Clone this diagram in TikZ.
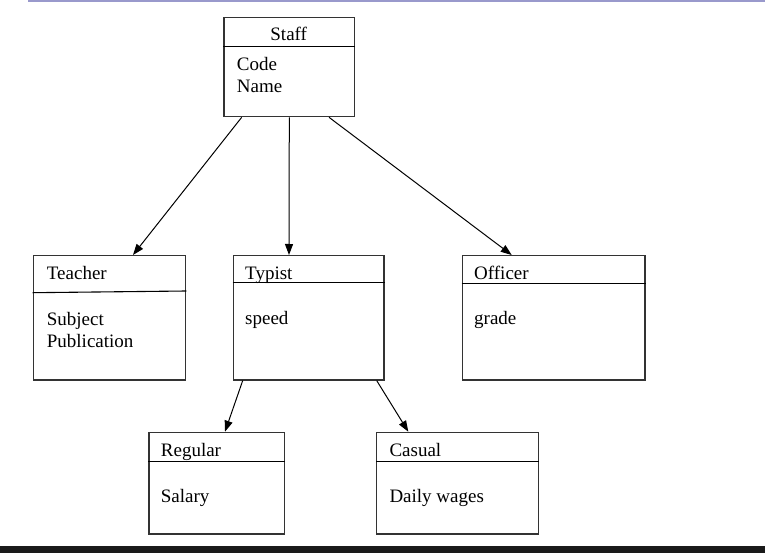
\documentclass[tikz,border=0pt]{standalone}
\usepackage{fontspec}
\setmainfont{Liberation Serif}
\usetikzlibrary{arrows.meta}
\definecolor{topbar}{HTML}{9999CC}
\definecolor{botbar}{HTML}{1A1A1A}
\definecolor{boxcol}{HTML}{333333}
\tikzset{
  classbox/.style={draw=boxcol, line width=1.3pt, rectangle, inner sep=0pt, anchor=north west},
  divider/.style={draw=black, line width=1.1pt},
  label/.style={inner sep=0pt, anchor=base west, font=\fontsize{19}{22}\selectfont},
  ctitle/.style={inner sep=0pt, anchor=base, font=\fontsize{19}{22}\selectfont},
  arr/.style={draw=black, line width=1pt, -{Triangle[length=11pt,width=8pt]}}
}
\begin{document}
\begin{tikzpicture}[x=1pt,y=-1pt]
\useasboundingbox (0,0) rectangle (765,553);
\fill[topbar] (28,0) rectangle (765,2.4);
\fill[botbar] (0,545.7) rectangle (765,553);

% boxes
\node[classbox, minimum width=130.7pt, minimum height=99.3pt] (staff) at (223.3,16.7) {};
\node[classbox, minimum width=152.3pt, minimum height=124.3pt] (teacher) at (32.7,255) {};
\node[classbox, minimum width=150.6pt, minimum height=124.3pt] (typist) at (232.7,255) {};
\node[classbox, minimum width=182.6pt, minimum height=124.3pt] (officer) at (461.7,255) {};
\node[classbox, minimum width=135.7pt, minimum height=101.6pt] (regular) at (148.3,431.7) {};
\node[classbox, minimum width=161.7pt, minimum height=101.6pt] (casual) at (376,431.7) {};

% dividers
\draw[divider] ([yshift=-30pt]staff.north west) -- ([yshift=-30pt]staff.north east);
\draw[divider] ([yshift=-37.7pt]teacher.north west) -- ([yshift=-36pt]teacher.north east);
\draw[divider] ([yshift=-27.7pt]typist.north west) -- ([yshift=-27.7pt]typist.north east);
\draw[divider] ([yshift=-28.3pt]officer.north west) -- ([yshift=-28.3pt]officer.north east);
\draw[divider] ([yshift=-30pt]regular.north west) -- ([yshift=-30pt]regular.north east);
\draw[divider] ([yshift=-30pt]casual.north west) -- ([yshift=-30pt]casual.north east);

% texts
\node[ctitle] (tstaff) at (288.7,41) {Staff};
\node[label] (tcode) at (236.7,71) {Code};
\node[label] (tname) at (236.7,93) {Name};
\node[label] (tteacher) at (46.7,279.3) {Teacher};
\node[label] (tsubject) at (46.7,325) {Subject};
\node[label] (tpub) at (46.7,347.3) {Publication};
\node[label] (ttypist) at (245,279) {Typist};
\node[label] (tspeed) at (245,324) {speed};
\node[label] (tofficer) at (474,279.3) {Officer};
\node[label] (tgrade) at (474,324) {grade};
\node[label] (tregular) at (160.7,456) {Regular};
\node[label] (tsalary) at (160.7,502.7) {Salary};
\node[label] (tcasual) at (389.3,456) {Casual};
\node[label] (tdaily) at (389.3,502.7) {Daily wages};

% connectors
\draw[arr] ([xshift=18.4pt]staff.south west) -- ([xshift=100.3pt]teacher.north west);
\draw[arr] ([xshift=66pt]staff.south west) -- ([xshift=56.3pt]typist.north west);
\draw[arr] ([xshift=105.7pt]staff.south west) -- ([xshift=50pt]officer.north west);
\draw[arr] ([xshift=10pt]typist.south west) -- ([xshift=76.7pt]regular.north west);
\draw[arr] ([xshift=144pt]typist.south west) -- ([xshift=32.3pt]casual.north west);
\end{tikzpicture}
\end{document}
